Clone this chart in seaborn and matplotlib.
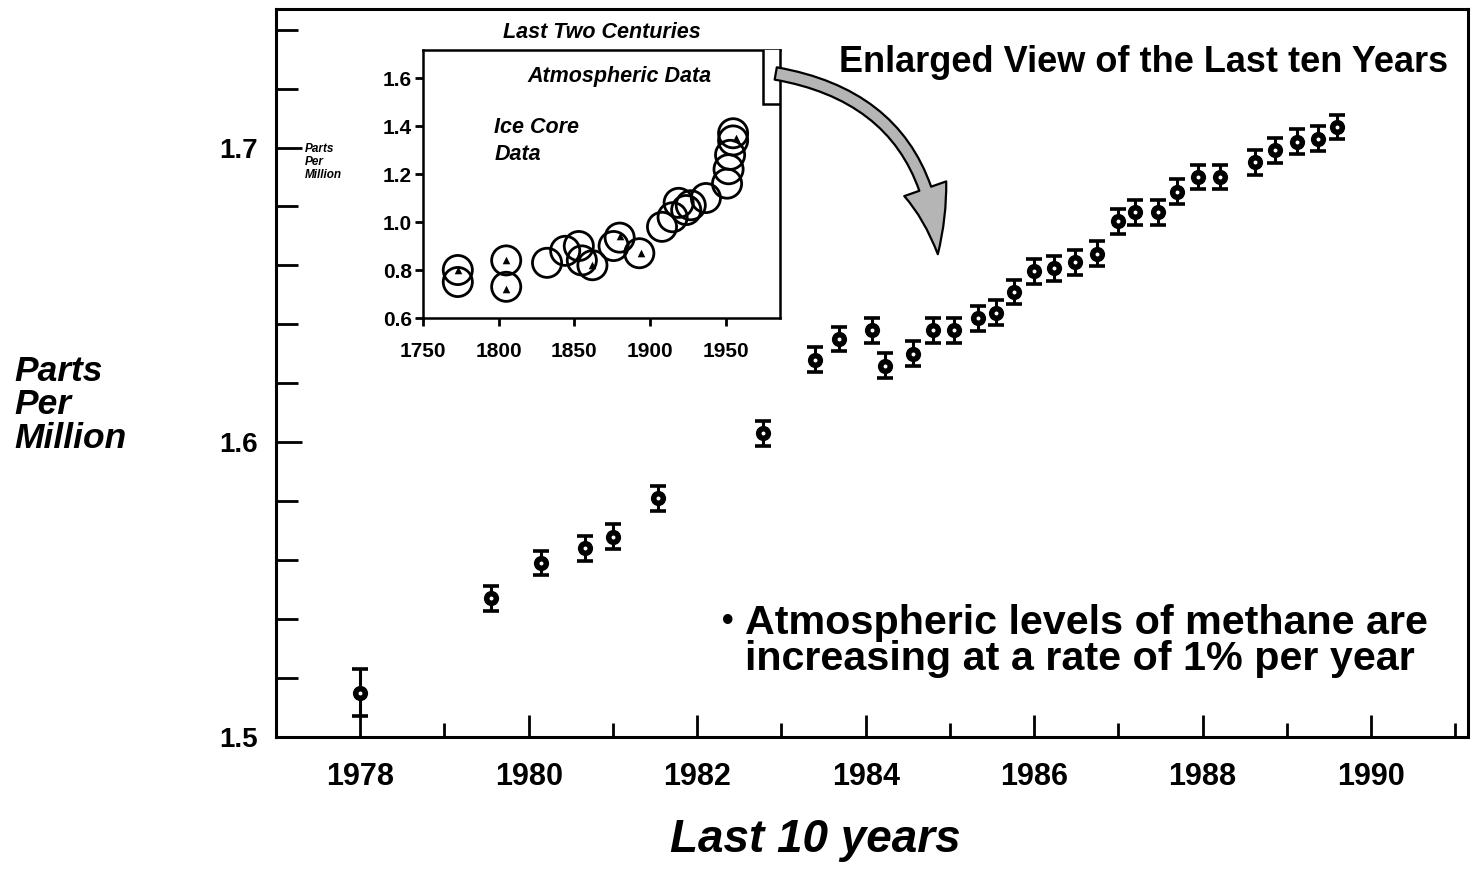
import matplotlib
matplotlib.use('Agg')
import matplotlib.pyplot as plt
import seaborn as sns
import pandas as pd
from matplotlib.patches import FancyArrowPatch, Rectangle
from matplotlib.ticker import MultipleLocator, FixedLocator

# ---- main series: methane, last years ----
years = [1978.0, 1979.55, 1980.15, 1980.67, 1981.0, 1981.54, 1982.78, 1983.4, 1983.68,
         1984.08, 1984.23, 1984.56, 1984.8, 1985.05, 1985.33, 1985.55, 1985.76, 1986.0,
         1986.24, 1986.48, 1986.74, 1987.0, 1987.2, 1987.47, 1987.69, 1987.94, 1988.21,
         1988.62, 1988.86, 1989.12, 1989.37, 1989.59]
ppm = [1.515, 1.547, 1.559, 1.564, 1.568, 1.581, 1.603, 1.628, 1.635,
       1.638, 1.626, 1.630, 1.638, 1.638, 1.642, 1.644, 1.651, 1.658,
       1.659, 1.661, 1.664, 1.675, 1.678, 1.678, 1.685, 1.690, 1.690,
       1.695, 1.699, 1.702, 1.703, 1.707]
err = [0.008] + [0.0042] * (len(years) - 1)

main_xticks = [1978, 1980, 1982, 1984, 1986, 1988, 1990]
main_yticks = [1.5, 1.6, 1.7]

# ---- inset: ice core data, last two centuries ----
ice_years = [1773, 1773, 1805, 1805, 1832, 1844, 1853, 1855, 1862, 1876, 1880, 1893,
             1908, 1915, 1919, 1924, 1927, 1937, 1951, 1952, 1953, 1955, 1955]
ice_ppm = [0.80, 0.75, 0.84, 0.73, 0.83, 0.88, 0.90, 0.84, 0.82, 0.90, 0.935, 0.87,
           0.98, 1.02, 1.08, 1.05, 1.07, 1.10, 1.16, 1.22, 1.28, 1.34, 1.37]
tri_years = [1773, 1805, 1805, 1862, 1880, 1894, 1957]
tri_ppm = [0.80, 0.84, 0.72, 0.82, 0.94, 0.87, 1.35]
inset_xticks = [1750, 1800, 1850, 1900, 1950]
inset_yticks = [0.6, 0.8, 1.0, 1.2, 1.4, 1.6]

sns.set_theme(style='white')
plt.rcParams['font.family'] = ['Liberation Sans', 'DejaVu Sans']
plt.rcParams['text.color'] = 'black'
plt.rcParams['xtick.color'] = 'black'
plt.rcParams['ytick.color'] = 'black'
plt.rcParams['axes.labelcolor'] = 'black'
NARROW = ['Liberation Sans Narrow', 'Liberation Sans', 'DejaVu Sans']

W, H = 1480, 876
fig = plt.figure(figsize=(W / 100, H / 100), dpi=100)

def rect(l, t, r, b):
    return [l / W, 1 - b / H, (r - l) / W, (b - t) / H]

ax = fig.add_axes(rect(276, 9, 1468, 737))
df = pd.DataFrame({'year': years, 'ppm': ppm, 'err': err})
ax.errorbar(df['year'], df['ppm'], yerr=df['err'], fmt='none', ecolor='black',
            elinewidth=2.2, capsize=6, capthick=2.6, zorder=2)
sns.scatterplot(data=df, x='year', y='ppm', ax=ax, color='black', s=120,
                edgecolor='black', linewidth=0, zorder=3, legend=False)
sns.scatterplot(data=df, x='year', y='ppm', ax=ax, color='white', s=8,
                linewidth=0, zorder=4, legend=False)

ax.set_xlim(1977.0, 1991.15)
ax.set_ylim(1.5, 1.747)
ax.xaxis.set_major_locator(FixedLocator(main_xticks))
ax.xaxis.set_minor_locator(MultipleLocator(1))
ax.yaxis.set_major_locator(FixedLocator(main_yticks))
ax.yaxis.set_minor_locator(MultipleLocator(0.02))
ax.set_xticklabels([str(t) for t in main_xticks], family=NARROW, fontsize=22, fontweight='bold')
ax.set_yticklabels([f'{t:.1f}' for t in main_yticks], fontsize=20, fontweight='bold')
ax.tick_params(axis='x', which='major', direction='in', length=16, width=2, pad=18, bottom=True)
ax.tick_params(axis='x', which='minor', direction='in', length=10, width=2, bottom=True)
ax.tick_params(axis='y', which='major', direction='in', length=19, width=2, pad=13, left=True)
ax.tick_params(axis='y', which='minor', direction='in', length=16, width=2, left=True)
ax.set_xlabel('')
ax.set_ylabel('')
for s in ax.spines.values():
    s.set_linewidth(2.2)
    s.set_color('black')

# axis titles and annotations
fig.text(14 / W, 1 - 405 / H, 'Parts\nPer\nMillion', ha='left', va='center',
         fontsize=25.5, fontstyle='italic', fontweight='bold', linespacing=1.02)
fig.text(815 / W, 1 - 840 / H, 'Last 10 years', ha='center', va='center',
         family=NARROW, fontsize=33, fontstyle='italic', fontweight='bold')
fig.text(1144 / W, 1 - 62 / H, 'Enlarged View of the Last ten Years', ha='center', va='center',
         family=NARROW, fontsize=26, fontweight='bold')
fig.text(728 / W, 1 - 622 / H, '•', ha='center', va='center', fontsize=24, fontweight='bold')
fig.text(745 / W, 1 - 641 / H, 'Atmospheric levels of methane are\nincreasing at a rate of 1% per year',
         ha='left', va='center', family=NARROW, fontsize=29.7, fontweight='bold', linespacing=0.93)

# ---- inset ----
axi = fig.add_axes(rect(423, 50, 780, 318))
dfi = pd.DataFrame({'year': ice_years, 'ppm': ice_ppm})
dft = pd.DataFrame({'year': tri_years, 'ppm': tri_ppm})
sns.scatterplot(data=dfi, x='year', y='ppm', ax=axi, s=440, facecolor='none',
                edgecolor='black', linewidth=2, legend=False, zorder=3)
sns.scatterplot(data=dft, x='year', y='ppm', ax=axi, marker='^', s=30, color='black',
                linewidth=0, legend=False, zorder=4)
axi.set_xlim(1750, 1986)
axi.set_ylim(0.6, 1.717)
axi.xaxis.set_major_locator(FixedLocator(inset_xticks))
axi.yaxis.set_major_locator(FixedLocator(inset_yticks))
axi.set_xticklabels([str(t) for t in inset_xticks], fontsize=15, fontweight='bold')
axi.set_yticklabels([f'{t:.1f}' for t in inset_yticks], fontsize=15, fontweight='bold')
axi.tick_params(axis='both', which='major', direction='out', length=6, width=2, pad=2,
                left=True, bottom=True)
axi.tick_params(axis='x', pad=11)
axi.set_xlabel('')
axi.set_ylabel('')
for s in axi.spines.values():
    s.set_linewidth(1.8)
    s.set_color('black')
axi.add_patch(Rectangle((1975, 1.49), 11, 0.3, facecolor='white', edgecolor='black',
                        linewidth=1.8, zorder=5, clip_on=True))
axi.text(0.5, 1.065, 'Last Two Centuries', transform=axi.transAxes, ha='center', va='center',
         fontsize=15.5, fontstyle='italic', fontweight='bold')
axi.text(0.55, 0.9, 'Atmospheric Data', transform=axi.transAxes, ha='center', va='center',
         fontsize=15.5, fontstyle='italic', fontweight='bold')
axi.text(0.2, 0.66, 'Ice Core\nData', transform=axi.transAxes, ha='left', va='center',
         fontsize=15.5, fontstyle='italic', fontweight='bold', linespacing=1.35)
fig.text(305 / W, 1 - 162 / H, 'Parts\nPer\nMillion', ha='left', va='center',
         fontsize=8.5, fontstyle='italic', fontweight='bold', linespacing=1.1)

# curved arrow from the inset marker to the enlarged view
arrow = FancyArrowPatch((773 / W, 1 - 73 / H), (938 / W, 1 - 257 / H),
                        transform=fig.transFigure, connectionstyle='arc3,rad=-0.4',
                        arrowstyle='simple,head_length=2.4,head_width=1.6,tail_width=0.45',
                        mutation_scale=20, facecolor='#b5b5b5', edgecolor='black',
                        linewidth=1.6, zorder=10)
fig.patches.append(arrow)

fig.savefig('out.png', dpi=100)
